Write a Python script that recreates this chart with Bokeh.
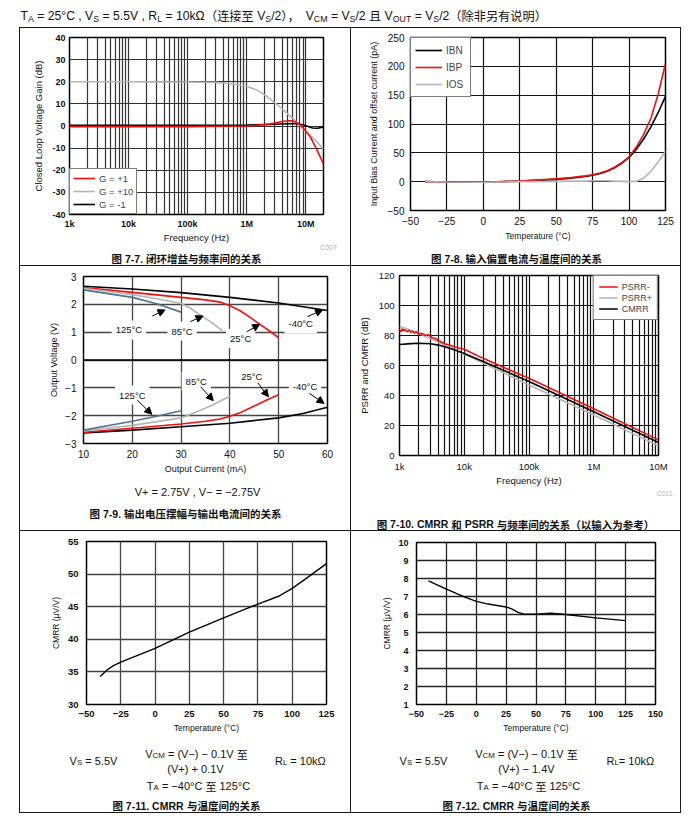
from bokeh.plotting import figure
from bokeh.layouts import column, row
from bokeh.models import (Range1d, FixedTicker, Label, Legend, LegendItem, Arrow,
                          NormalHead, Span, Spacer)
from bokeh.embed import file_html
from bokeh.resources import INLINE

# ---------------- data ----------------
# Fig 7-7 closed loop gain vs frequency
g1_freq = [1e3, 1e5, 1e6, 2e6, 3e6, 4e6, 5e6, 6e6, 7e6, 8e6, 1e7, 1.2e7, 1.5e7, 1.8e7, 2e7]
g1_gain = [-0.3, -0.3, 0.0, 0.6, 1.3, 2.0, 2.4, 2.3, 1.6, 0.6, -2.2, -5.0, -10.0, -14.5, -17.2]
g10_freq = [1e3, 1e4, 1e5, 2e5, 3e5, 5e5, 7e5, 1e6, 1.5e6, 2e6, 3e6, 4e6, 5e6, 7e6, 1e7, 1.5e7, 2e7]
g10_gain = [20, 20, 19.9, 19.8, 19.7, 19.2, 18.7, 18.0, 16.2, 14.2, 10.6, 7.8, 5.4, 1.8, -2.3, -6.8, -10.4]
gm1_freq = [1e3, 1e5, 1e6, 3e6, 5e6, 7e6, 9e6, 1.1e7, 1.3e7, 1.6e7, 2e7]
gm1_gain = [0.3, 0.3, 0.4, 0.8, 1.0, 1.0, 0.6, -0.2, -0.9, -1.0, -0.4]
freq_ticks = [1e3, 1e4, 1e5, 1e6, 1e7]
freq_labels = ["1k", "10k", "100k", "1M", "10M"]

# Fig 7-8 input bias current vs temperature
ib_temp = [-40, -25, 0, 25, 50, 60, 70, 75, 80, 85, 90, 95, 100, 105, 110, 115, 120, 125]
ibn = [0, -0.5, -1, 1, 4, 6, 9, 11, 14, 18, 24, 32, 42, 56, 74, 95, 120, 148]
ibp = [0, -0.5, -1, 1, 5, 7, 10, 12, 15, 19, 25, 33, 43, 60, 82, 110, 152, 205]
ios = [0, -0.5, -1, 0, 0.5, 1, 1, 1.5, 1.5, 1.5, 1, 0.5, 0, 0.5, 6, 18, 34, 53]

# Fig 7-9 output swing vs output current
m40_cur = [10, 20, 30, 40, 50, 60]
m40_pos = [2.65, 2.55, 2.42, 2.25, 2.05, 1.78]
m40_neg_cur = [10, 20, 30, 40, 50, 55, 60]
m40_neg = [-2.62, -2.52, -2.40, -2.27, -2.08, -1.92, -1.70]
t25_pos_cur = [10, 20, 30, 35, 38, 40, 42, 44, 46, 48, 50]
t25_pos = [2.60, 2.43, 2.25, 2.16, 2.08, 1.95, 1.78, 1.55, 1.30, 1.06, 0.80]
t25_neg_cur = [10, 20, 30, 35, 38, 40, 42, 45, 48, 50]
t25_neg = [-2.60, -2.45, -2.30, -2.20, -2.12, -2.02, -1.90, -1.65, -1.40, -1.25]
t85_pos_cur = [10, 20, 25, 30, 32, 34, 36, 38.5]
t85_pos = [2.58, 2.35, 2.20, 2.03, 1.85, 1.60, 1.38, 1.05]
t85_neg_cur = [10, 20, 30, 33, 36, 40]
t85_neg = [-2.55, -2.35, -2.08, -1.88, -1.65, -1.30]
t125_cur = [10, 20, 25, 30]
t125_pos = [2.52, 2.25, 2.02, 1.72]
t125_neg = [-2.52, -2.20, -2.02, -1.82]
swing_labels = ["125°C", "85°C", "25°C", "-40°C", "125°C", "85°C", "25°C", "-40°C"]
swing_label_x = [19.3, 30.2, 42.2, 54.5, 20.0, 33.1, 44.5, 55.4]
swing_label_y = [1.08, 1.04, 0.77, 1.30, -1.26, -0.76, -0.61, -0.96]
arrow_x0 = [24.1, 31.9, 43.5, 55.9, 21.0, 34.0, 45.7, 56.3]
arrow_y0 = [1.58, 1.38, 1.02, 1.56, -1.44, -0.96, -0.82, -1.20]
arrow_x1 = [26.7, 34.5, 46.1, 59.0, 24.0, 36.6, 47.9, 59.3]
arrow_y1 = [1.80, 1.58, 1.28, 1.80, -1.95, -1.46, -1.32, -1.56]

# Fig 7-10 PSRR / CMRR vs frequency
psrrm_freq = [1000, 1050, 1100, 1150, 1200, 1300, 1400, 1500, 1600, 1700, 1800, 2000, 2200,
              2500, 2800, 3200, 3600, 4000, 4500, 5000, 6000, 7000, 8000, 1e4, 2e4, 5e4,
              1e5, 1e6, 1e7]
psrrm = [83.5, 82.5, 84.5, 83.0, 84.0, 82.5, 83.5, 82.0, 83.0, 81.5, 82.5, 81.0, 81.5,
         80.0, 80.5, 78.5, 78.0, 76.5, 75.5, 74.5, 73.5, 72.5, 71.8, 70.8, 64.6, 57.0,
         51.5, 31.2, 10.4]
psrrp_freq = [1e3, 1.2e3, 1.5e3, 2e3, 3e3, 5e3, 1e4, 2e4, 1e5, 1e6, 1e7]
psrrp = [86.0, 85.0, 83.5, 81.5, 78.0, 73.5, 67.5, 61.5, 47.0, 27.0, 6.5]
cmrr_freq = [1e3, 1.5e3, 2e3, 3e3, 4e3, 5e3, 7e3, 1e4, 2e4, 1e5, 1e6, 1e7]
cmrr_db = [74.0, 74.6, 74.8, 74.5, 73.6, 72.5, 70.5, 68.0, 62.5, 49.3, 29.2, 8.7]

# Fig 7-11 / 7-12 CMRR vs temperature
cm1_temp = [-40, -35, -30, -25, 0, 25, 50, 75, 90, 100, 110, 125]
cm1_val = [34.3, 35.3, 36.0, 36.5, 38.6, 41.1, 43.3, 45.4, 46.6, 47.8, 49.3, 51.6]
cm2_temp = [-40, -25, -10, 0, 10, 25, 30, 35, 40, 50, 62, 75, 100, 125]
cm2_val = [7.87, 7.41, 6.98, 6.73, 6.58, 6.42, 6.30, 6.12, 6.02, 6.02, 6.07, 6.00, 5.81, 5.66]

# ---------------- styling helpers ----------------
LAT = "Liberation Sans"
CJK = "Noto Sans CJK SC"
RED = "#f01010"
GRAY = "#b4b4b4"
BLUE = "#4f7393"
INK = "#111111"

AW = {' ': 278, '(': 333, ')': 333, '+': 584, ',': 278, '-': 333, '.': 278, '/': 278,
      '=': 584, '°': 400, 'Ω': 768, '−': 584, 'µ': 556, ':': 278,
      'A': 667, 'B': 667, 'C': 722, 'D': 722, 'E': 667, 'F': 611, 'G': 778, 'H': 722,
      'I': 278, 'K': 667, 'L': 556, 'M': 833, 'N': 722, 'O': 778, 'P': 667, 'R': 722,
      'S': 667, 'T': 611, 'U': 722, 'V': 667, 'k': 500}
for d in "0123456789":
    AW[d] = 556

ORIGIN = {}


def tw(s, size):
    t = 0
    for ch in s:
        t += 1000 if ord(ch) >= 0x2E80 else AW.get(ch, 556)
    return t * size / 1000.0


def runs(s):
    out, cur, curc = [], "", None
    for ch in s:
        c = ord(ch) >= 0x2E80
        if curc is None or c == curc:
            cur += ch
        else:
            out.append((cur, curc))
            cur = ch
        curc = c
    if cur:
        out.append((cur, curc))
    return out


def textfig(w, h, origin, styles):
    """A text-only canvas whose data units equal page pixels (y grows downward)."""
    t = figure(width=w, height=h, x_range=Range1d(0, w), y_range=Range1d(h, 0),
               output_backend="svg", toolbar_location=None, min_border=0,
               x_axis_location=None, y_axis_location=None, styles=styles)
    t.outline_line_color = None
    t.grid.visible = False
    t.background_fill_color = "white"
    t.border_fill_color = "white"
    ORIGIN[t.id] = origin
    return t


def rich(t, segs, px, base, size, align="center", bold=False, color=INK):
    ox, oy = ORIGIN[t.id]
    items, total = [], 0.0
    for text, sub in segs:
        sz = size * 0.72 if sub else size
        for r, c in runs(text):
            w = tw(r, sz)
            items.append((r, c, sz, sub, w))
            total += w
    x = px - total / 2.0 if align == "center" else px
    for r, c, sz, sub, w in items:
        lead = len(r) - len(r.lstrip(" "))
        s = r.strip(" ")
        if s:
            y = base + (0.22 * size if sub else 0)
            t.add_layout(Label(x=x + tw(" " * lead, sz) - ox, y=y - oy, text=s,
                               text_font=CJK if c else LAT, text_font_size=f"{sz:.1f}px",
                               text_font_style="bold" if bold else "normal",
                               text_color=color, text_align="left",
                               text_baseline="alphabetic"))
        x += w


def note(t, px, py, text, size, color=INK):
    ox, oy = ORIGIN[t.id]
    t.add_layout(Label(x=px - ox, y=py - oy, text=text, text_font=LAT,
                       text_font_size=size, text_color=color,
                       text_align="center", text_baseline="middle"))


def mkfig(cw, ch, ml, mr, mt, mb, xr, yr, styles, xtype="linear"):
    p = figure(width=cw, height=ch, x_range=Range1d(*xr), y_range=Range1d(*yr),
               x_axis_type=xtype, output_backend="svg", toolbar_location=None,
               min_border_left=ml, min_border_right=mr, min_border_top=mt,
               min_border_bottom=mb, styles=styles)
    p.outline_line_color = "black"
    p.outline_line_width = 1.5
    p.background_fill_color = "white"
    p.border_fill_color = "white"
    for ax in (p.xaxis[0], p.yaxis[0]):
        ax.axis_line_color = None
        ax.major_tick_in = 0
        ax.major_tick_out = 0
        ax.minor_tick_in = 0
        ax.minor_tick_out = 0
        ax.major_label_text_font = LAT
        ax.axis_label_text_font = LAT
        ax.axis_label_text_font_style = "normal"
        ax.major_label_text_color = INK
        ax.axis_label_text_color = INK
    p.grid.grid_line_color = "#333333"
    p.grid.grid_line_width = 1.2
    return p


def setax(p, xt, xl, yt, yl, xlab, ylab, tsz, lsz, bold=False,
          xstand=5, ystand=4, xls=0, yls=4):
    p.xaxis.ticker = FixedTicker(ticks=xt)
    p.yaxis.ticker = FixedTicker(ticks=yt)
    p.xaxis.major_label_overrides = {k: v for k, v in zip(xt, xl)}
    p.yaxis.major_label_overrides = {k: v for k, v in zip(yt, yl)}
    p.xaxis.axis_label = xlab
    p.yaxis.axis_label = ylab
    for ax in (p.xaxis[0], p.yaxis[0]):
        ax.major_label_text_font_size = tsz
        ax.axis_label_text_font_size = lsz
        ax.major_label_text_font_style = "bold" if bold else "normal"
    p.xaxis.major_label_standoff = xstand
    p.yaxis.major_label_standoff = ystand
    p.xaxis.axis_label_standoff = xls
    p.yaxis.axis_label_standoff = yls


def legend(p, items, loc, fsize, gw, gh, pad, spacing):
    lg = Legend(items=[LegendItem(label=l, renderers=[r]) for l, r in items],
                location=loc, margin=0, padding=pad, spacing=spacing,
                glyph_width=gw, glyph_height=gh, label_height=gh, label_standoff=4,
                label_text_font=LAT, label_text_font_size=fsize,
                border_line_color="black", border_line_width=1.5,
                background_fill_color="white", background_fill_alpha=1.0)
    p.add_layout(lg)


BD = "1px solid #1a1a1a"
LW = 1.6


def bd(*sides):
    return {f"border-{s}": BD for s in sides}


# ---------------- header ----------------
head = textfig(684, 27, (0, 0), {})
rich(head, [("T", False), ("A", True), (" = 25°C , V", False), ("S", True),
            (" = 5.5V , R", False), ("L", True), (" = 10kΩ（连接至 V", False),
            ("S", True), ("/2），V", False), ("CM", True), (" = V", False),
            ("S", True), ("/2 且 V", False), ("OUT", True), (" = V", False),
            ("S", True), ("/2（除非另有说明）", False)],
     20, 15.5, 12.2, align="left")

# ---------------- Fig 7-7 ----------------
p1 = mkfig(332, 217, 49, 29, 9, 28, (1e3, 2e7), (-40, 40), bd("top", "left", "right"),
           xtype="log")
setax(p1, freq_ticks, freq_labels, list(range(-40, 41, 10)),
      [str(v) for v in range(-40, 41, 10)], "Frequency (Hz)",
      "Closed Loop Voltage Gain (dB)", "9px", "9.5px", bold=True, xstand=4, ystand=4,
      xls=0, yls=5)
p1.xgrid.ticker = FixedTicker(ticks=[m * 10 ** e for e in range(3, 8) for m in range(1, 10)])
r_g1 = p1.line(g1_freq, g1_gain, line_color=RED, line_width=LW)
r_g10 = p1.line(g10_freq, g10_gain, line_color=GRAY, line_width=LW)
r_gm1 = p1.line(gm1_freq, gm1_gain, line_color="black", line_width=LW)
p1.renderers = [r_g10, r_gm1, r_g1]
legend(p1, [("G = +1", r_g1), ("G = +10", r_g10), ("G = -1", r_gm1)], "bottom_left",
       "9.5px", 22, 12, 3, 1)
t1 = textfig(332, 22, (20, 245), bd("left", "right", "bottom"))
note(t1, 328, 248, "C007", "7px", "#b0b0b0")
rich(t1, [("图 7-7. 闭环增益与频率间的关系", False)], 186, 259, 10.5, bold=True)

# ---------------- Fig 7-8 ----------------
p2 = mkfig(330, 217, 59, 16, 9, 35, (-50, 125), (-50, 250), bd("top", "right"))
tx2 = list(range(-50, 126, 25))
ty2 = list(range(-50, 251, 50))
setax(p2, tx2, [str(v).replace("-", "−") for v in tx2], ty2,
      [str(v).replace("-", "−") for v in ty2], "Temperature (°C)",
      "Input Bias Current and offset current (pA)", "10px", "9px",
      xstand=6, ystand=6, xls=3, yls=6)
p2.xaxis.axis_label_text_font_size = "8.5px"
p2.grid.grid_line_color = INK
r_ibn = p2.line(ib_temp, ibn, line_color="black", line_width=LW)
r_ibp = p2.line(ib_temp, ibp, line_color=RED, line_width=LW)
r_ios = p2.line(ib_temp, ios, line_color=GRAY, line_width=LW)
legend(p2, [("IBN", r_ibn), ("IBP", r_ibp), ("IOS", r_ios)], "top_left", "10px",
       27, 16, 4, 1)
t2 = textfig(330, 22, (353, 245), bd("right", "bottom"))
rich(t2, [("图 7-8. 输入偏置电流与温度间的关系", False)], 518, 259, 10.5, bold=True)

# ---------------- Fig 7-9 ----------------
p3 = mkfig(332, 211, 63, 25, 10, 34, (10, 60), (-3, 3), bd("left", "right"))
tx3 = list(range(10, 61, 10))
ty3 = list(range(-3, 4))
setax(p3, tx3, [str(v) for v in tx3], ty3, [str(v).replace("-", "−") for v in ty3],
      "Output Current (mA)", "Output Voltage (V)", "10px", "9px",
      xstand=6, ystand=7, xls=3, yls=3)
p3.grid.grid_line_color = "#444444"
p3.grid.grid_line_width = 1.3
p3.add_layout(Span(location=0, dimension="width", line_color="black", line_width=1.3))
for cx, cy in ((m40_cur, m40_pos), (m40_neg_cur, m40_neg)):
    p3.line(cx, cy, line_color="black", line_width=LW)
for cx, cy in ((t25_pos_cur, t25_pos), (t25_neg_cur, t25_neg)):
    p3.line(cx, cy, line_color=RED, line_width=LW)
for cx, cy in ((t85_pos_cur, t85_pos), (t85_neg_cur, t85_neg)):
    p3.line(cx, cy, line_color=GRAY, line_width=LW)
for cx, cy in ((t125_cur, t125_pos), (t125_cur, t125_neg)):
    p3.line(cx, cy, line_color=BLUE, line_width=LW)
for txt, lx, ly in zip(swing_labels, swing_label_x, swing_label_y):
    p3.add_layout(Label(x=lx, y=ly, text=txt, text_font=LAT, text_font_size="9.5px",
                        text_color=INK, text_align="center", text_baseline="middle",
                        background_fill_color="white", padding=4))
for x0, y0, x1, y1 in zip(arrow_x0, arrow_y0, arrow_x1, arrow_y1):
    p3.add_layout(Arrow(x_start=x0, y_start=y0, x_end=x1, y_end=y1, line_width=1,
                        line_color="black",
                        end=NormalHead(size=7, fill_color="black", line_color="black")))
t3 = textfig(332, 54, (20, 479), bd("left", "right", "bottom"))
rich(t3, [("V+ = 2.75V , V− = −2.75V", False)], 197, 493, 11)
rich(t3, [("图 7-9. 输出电压摆幅与输出电流间的关系", False)], 185, 515, 10.5, bold=True)

# ---------------- Fig 7-10 ----------------
p4 = mkfig(330, 222, 48, 23, 9, 28, (1e3, 1e7), (0, 120), bd("right"), xtype="log")
ty4 = list(range(0, 121, 20))
setax(p4, freq_ticks, freq_labels, ty4, [str(v) for v in ty4], "Frequency (Hz)",
      "PSRR and CMRR (dB)", "9.5px", "9.5px", xstand=5, ystand=5, xls=0, yls=6)
p4.xgrid.ticker = FixedTicker(ticks=[m * 10 ** e for e in range(3, 7) for m in range(1, 10)])
p4.grid.grid_line_color = INK
r_pm = p4.line(psrrm_freq, psrrm, line_color=RED, line_width=LW)
r_pp = p4.line(psrrp_freq, psrrp, line_color=GRAY, line_width=LW)
r_cm = p4.line(cmrr_freq, cmrr_db, line_color="black", line_width=LW)
p4.renderers = [r_pp, r_cm, r_pm]
legend(p4, [("PSRR-", r_pm), ("PSRR+", r_pp), ("CMRR", r_cm)], "top_right", "9px",
       19, 11, 5, 0)
t4 = textfig(330, 43, (353, 490), bd("right", "bottom"))
note(t4, 666, 495, "C011", "7px", "#b0b0b0")
rich(t4, [("图 7-10. CMRR 和 PSRR 与频率间的关系（以输入为参考）", False)], 517, 525.5,
     10.5, bold=True)

# ---------------- Fig 7-11 ----------------
p5 = mkfig(332, 207, 66, 26, 10, 34, (-50, 125), (30, 55), bd("left", "right"))
tx5 = list(range(-50, 126, 25))
ty5 = list(range(30, 56, 5))
setax(p5, tx5, [str(v).replace("-", "−") for v in tx5], ty5, [str(v) for v in ty5],
      "Temperature (°C)", "CMRR (µV/V)", "9.5px", "8.5px", bold=True,
      xstand=6, ystand=8, xls=3, yls=4)
p5.grid.grid_line_color = "#444444"
p5.grid.grid_line_width = 1.3
p5.line(cm1_temp, cm1_val, line_color="black", line_width=1.4)
t5 = textfig(332, 75, (20, 741), bd("left", "right", "bottom"))
rich(t5, [("V", False), ("S", True), (" = 5.5V", False)], 93, 763, 11)
rich(t5, [("V", False), ("CM", True), (" = (V−) − 0.1V 至", False)], 196, 756, 11)
rich(t5, [("(V+) + 0.1V", False)], 195, 771, 11)
rich(t5, [("T", False), ("A", True), (" = −40°C 至 125°C", False)], 198, 788, 11)
rich(t5, [("R", False), ("L", True), (" = 10kΩ", False)], 300, 763, 11)
rich(t5, [("图 7-11. CMRR 与温度间的关系", False)], 186, 808, 10.5, bold=True)

# ---------------- Fig 7-12 ----------------
p6 = mkfig(330, 207, 65, 26, 11, 34, (-50, 150), (1, 10), bd("right"))
tx6 = list(range(-50, 151, 25))
ty6 = list(range(1, 11))
setax(p6, tx6, [str(v).replace("-", "−") for v in tx6], ty6, [str(v) for v in ty6],
      "Temperature (°C)", "CMRR (µV/V)", "9px", "8.5px", bold=True,
      xstand=6, ystand=8, xls=3, yls=3)
p6.grid.grid_line_color = "#222222"
p6.grid.grid_line_width = 1.3
p6.line(cm2_temp, cm2_val, line_color="black", line_width=1.4)
t6 = textfig(330, 75, (353, 741), bd("right", "bottom"))
rich(t6, [("V", False), ("S", True), (" = 5.5V", False)], 425, 763, 11)
rich(t6, [("V", False), ("CM", True), (" = (V−) − 0.1V 至", False)], 528, 756, 11)
rich(t6, [("(V+) − 1.4V", False)], 528, 771, 11)
rich(t6, [("T", False), ("A", True), (" = −40°C 至 125°C", False)], 530, 788, 11)
rich(t6, [("R", False), ("L", True), ("= 10kΩ", False)], 632, 763, 11)
rich(t6, [("图 7-12. CMRR 与温度间的关系", False)], 518, 808, 10.5, bold=True)


def cell(p, t):
    # wrap each piece so that Bokeh does not align the text canvas to the chart frame
    return column(row(p), row(t))


grid = column(row(cell(p1, t1), cell(p2, t2)),
              row(cell(p3, t3), cell(p4, t4)),
              row(cell(p5, t5), cell(p6, t6)))
page = column(head, row(Spacer(width=19, height=10), grid))

open("out.html", "w").write(file_html(page, INLINE))
